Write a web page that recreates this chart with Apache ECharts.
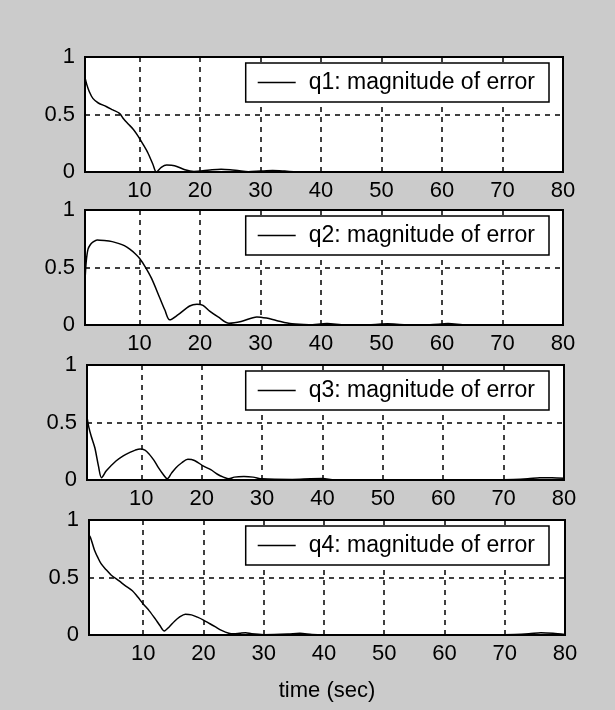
<!DOCTYPE html>
<html>
<head>
<meta charset="utf-8">
<script src="https://cdn.jsdelivr.net/npm/echarts@6/dist/echarts.min.js"></script>
<style>
html,body{margin:0;padding:0;background:#cbcbcb;}
#chart{width:615px;height:710px;}
</style>
</head>
<body>
<div id="chart"></div>
<script>
// ---- data ----
const seriesNames = ["q1: magnitude of error", "q2: magnitude of error", "q3: magnitude of error", "q4: magnitude of error"];
const xTickLabels = [10, 20, 30, 40, 50, 60, 70, 80];
const yTickLabels = [0, 0.5, 1];
const xLabel = "time (sec)";

const t1 = [1, 1.3, 1.7, 2.3, 3.2, 4.5, 5.6, 6.7, 7.4, 8.1, 9, 9.8, 10.6, 11.4, 12.2, 12.8, 13.6, 14.5, 15.8, 17.5, 19, 20.5, 22, 23.5, 25, 26.5, 28, 30, 32, 34, 36, 40, 50, 60, 70, 80];
const v1 = [0.82, 0.76, 0.70, 0.64, 0.60, 0.57, 0.54, 0.51, 0.46, 0.42, 0.37, 0.31, 0.24, 0.165, 0.07, 0.0, 0.04, 0.06, 0.055, 0.02, 0.005, 0.01, 0.02, 0.025, 0.02, 0.01, 0.003, 0.008, 0.012, 0.008, 0.002, 0.002, 0.001, 0.001, 0.001, 0.001];

const t2 = [1, 1.2, 1.5, 1.9, 2.3, 3.0, 4.2, 5.5, 6.5, 7.5, 8.4, 9.3, 10, 10.9, 12, 13.4, 14.2, 15, 16.4, 18.3, 19.5, 20.5, 21.6, 23, 24.8, 26.8, 29.4, 31, 32.6, 35.2, 38, 41, 44, 48, 51, 54, 58, 61, 64, 70, 80];
const v2 = [0.38, 0.55, 0.66, 0.70, 0.72, 0.74, 0.735, 0.725, 0.71, 0.69, 0.66, 0.62, 0.58, 0.51, 0.405, 0.23, 0.13, 0.045, 0.09, 0.165, 0.18, 0.17, 0.12, 0.07, 0.015, 0.03, 0.07, 0.06, 0.04, 0.01, 0.003, 0.012, 0.002, 0.002, 0.01, 0.002, 0.003, 0.012, 0.002, 0.002, 0.001];

const t3 = [1, 1.3, 1.7, 2.3, 2.9, 3.4, 4.2, 5.8, 7, 8.1, 9, 9.8, 10.6, 11.3, 12.1, 12.8, 13.6, 14.3, 15, 15.7, 16.7, 17.7, 18.8, 20.3, 21.5, 22.6, 23.6, 24.5, 25.4, 27, 28.5, 30, 35, 38, 40, 42, 50, 60, 70, 74, 76, 78, 80];
const v3 = [0.55, 0.46, 0.38, 0.28, 0.12, 0.02, 0.08, 0.165, 0.21, 0.24, 0.26, 0.27, 0.26, 0.225, 0.17, 0.11, 0.05, 0.01, 0.06, 0.105, 0.15, 0.18, 0.17, 0.12, 0.09, 0.05, 0.025, 0.01, 0.025, 0.03, 0.025, 0.01, 0.005, 0.01, 0.012, 0.003, 0.002, 0.002, 0.002, 0.01, 0.02, 0.02, 0.015];

const t4 = [1, 1.3, 1.9, 2.5, 3, 3.8, 4.7, 6, 7, 8.2, 9.1, 10, 11, 12, 12.8, 13.5, 14.3, 15.2, 16, 17, 18, 19, 20, 21, 22, 23, 24.2, 25, 26, 27, 28, 30, 34, 36, 38, 40, 50, 60, 70, 74, 76, 78, 80];
const v4 = [0.87, 0.84, 0.74, 0.67, 0.62, 0.57, 0.52, 0.47, 0.43, 0.385, 0.33, 0.27, 0.21, 0.14, 0.08, 0.035, 0.07, 0.12, 0.155, 0.18, 0.175, 0.155, 0.13, 0.10, 0.07, 0.04, 0.015, 0.01, 0.015, 0.02, 0.01, 0.003, 0.008, 0.015, 0.005, 0.002, 0.002, 0.002, 0.002, 0.01, 0.02, 0.015, 0.005];

const times = [t1, t2, t3, t4];
const values = [v1, v2, v3, v4];

// ---- layout / style ----
const FONT = '"Liberation Sans", Arial, sans-serif';
const gridTops = [57, 210, 365, 520];
const gridLefts = [85, 85, 87, 89];
const gridRights = [52, 52, 51, 50];
const gridH = 115;

const chart = echarts.init(document.getElementById('chart'), null, {renderer: 'canvas'});

const grids = [], xAxes = [], yAxes = [], series = [], legends = [];
for (let i = 0; i < 4; i++) {
  grids.push({
    left: gridLefts[i], right: gridRights[i], top: gridTops[i], height: gridH,
    show: true, backgroundColor: '#ffffff', borderColor: '#000', borderWidth: 2
  });
  xAxes.push({
    type: 'value', gridIndex: i, min: 1, max: 80,
    axisLine: {show: false},
    axisTick: {show: false, customValues: xTickLabels},
    axisLabel: {customValues: xTickLabels, fontSize: 22, color: '#000', margin: 8, fontFamily: FONT},
    splitLine: {show: true, lineStyle: {color: '#000', type: [5, 5], width: 1.5}},
    name: i === 3 ? xLabel : '',
    nameLocation: 'middle', nameGap: 45,
    nameTextStyle: {fontSize: 22, color: '#000', fontFamily: FONT}
  });
  yAxes.push({
    type: 'value', gridIndex: i, min: yTickLabels[0], max: yTickLabels[2], interval: 0.5,
    axisLine: {show: false}, axisTick: {show: false},
    axisLabel: {fontSize: 22, color: '#000', margin: 10, fontFamily: FONT},
    splitLine: {show: true, lineStyle: {color: '#000', type: [5, 5], width: 1.5}}
  });
  series.push({
    name: seriesNames[i], type: 'line', xAxisIndex: i, yAxisIndex: i,
    data: times[i].map((t, k) => [t, values[i][k]]),
    symbol: 'none', showSymbol: false, smooth: 0.3,
    lineStyle: {color: '#000', width: 1.5}, itemStyle: {color: '#000'},
    animation: false
  });
  legends.push({
    data: [seriesNames[i]], right: 66, top: gridTops[i] + 6,
    backgroundColor: '#fff', borderColor: '#000', borderWidth: 1.5, borderRadius: 0,
    padding: [8, 14, 8, 12], icon: 'rect', itemWidth: 38, itemHeight: 1.5, selectedMode: false,
    itemStyle: {color: '#000', borderWidth: 0},
    textStyle: {fontSize: 23, lineHeight: 23, color: '#000', fontFamily: FONT, padding: [0, 0, 0, 8]}
  });
}

chart.setOption({
  backgroundColor: '#cbcbcb',
  animation: false,
  grid: grids, xAxis: xAxes, yAxis: yAxes, series: series, legend: legends
});
</script>
</body>
</html>
